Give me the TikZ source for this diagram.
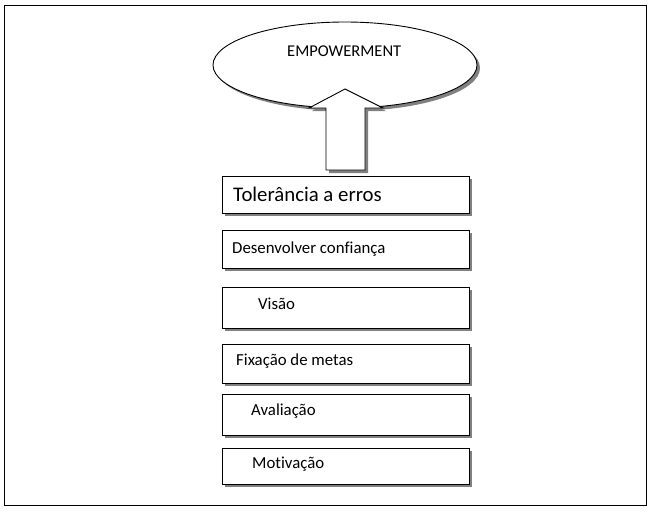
\documentclass[tikz,border=0pt]{standalone}
\usepackage{fontspec}
\setmainfont[Ligatures=NoCommon]{Carlito}
\usetikzlibrary{shadows,shapes.geometric}
\begin{document}
\begin{tikzpicture}[x=1pt,y=-1pt,
  shadowed/.style={drop shadow={shadow xshift=3pt,shadow yshift=-3pt,fill=black!50,opacity=1}},
  stepbox/.style={draw=black,line width=0.9pt,fill=white,shadowed,anchor=north west,inner sep=0pt,minimum width=247pt},
  lbl/.style={anchor=base west,inner sep=0pt,font=\fontsize{16.8}{20}\selectfont}]
\useasboundingbox (0,0) rectangle (652,512);
\node[draw=black,line width=1.2pt,anchor=north west,minimum width=642pt,minimum height=500pt,inner sep=0pt] (frame) at (4,5) {};
% ellipse
\node[ellipse,draw=black,line width=0.9pt,fill=white,shadowed,minimum width=264pt,minimum height=86pt,inner sep=0pt] (emp) at (345,65) {};
\node[lbl,font=\fontsize{16.5}{20}\selectfont] (empt) at (287,56) {EMPOWERMENT};
% boxes
\node[stepbox,minimum height=37pt] (b1) at (222,176) {};
\node[stepbox,minimum height=38pt] (b2) at (222,230) {};
\node[stepbox,minimum height=41pt] (b3) at (222,287) {};
\node[stepbox,minimum height=39pt] (b4) at (222,344) {};
\node[stepbox,minimum height=41pt] (b5) at (222,394) {};
\node[stepbox,minimum height=36pt] (b6) at (222,448) {};
% block arrow from b1 to ellipse
\coordinate (tip) at (345,89);
\path[draw=black,line width=0.9pt,fill=white,shadowed]
  (326,170) -- (326,108) -- (309,108) -- (tip) -- (383,108) -- (365,108) -- (365,170) -- cycle;
% labels
\node[lbl,font=\fontsize{20.8}{24}\selectfont] (t1) at (233,201) {Tolerância a erros};
\node[lbl] (t2) at (232,253) {Desenvolver confiança};
\node[lbl] (t3) at (258,309) {Visão};
\node[lbl] (t4) at (236,365) {Fixação de metas};
\node[lbl] (t5) at (251,415) {Avaliação};
\node[lbl] (t6) at (252,468) {Motivação};
\end{tikzpicture}
\end{document}
